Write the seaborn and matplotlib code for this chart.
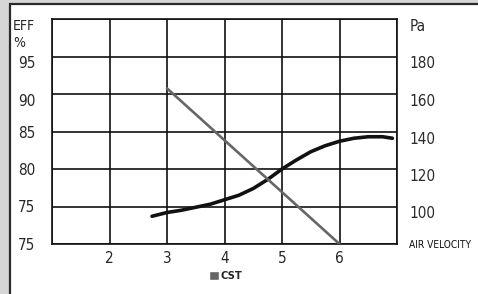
"""Filter efficiency and pressure drop vs air velocity."""

import matplotlib
matplotlib.use('Agg')
import matplotlib.pyplot as plt
import seaborn as sns
from matplotlib import font_manager
from matplotlib.patches import Patch, Rectangle

# efficiency curve (left axis, %)
VELOCITY = [2.74, 3.0, 3.25, 3.5, 3.75, 4.0, 4.25, 4.5, 4.75, 5.0,
            5.25, 5.5, 5.75, 6.0, 6.25, 6.5, 6.75, 6.92]
EFFICIENCY = [73.7, 74.2, 74.5, 74.9, 75.3, 75.9, 76.5, 77.4, 78.6, 80.0,
              81.2, 82.3, 83.1, 83.7, 84.1, 84.3, 84.3, 84.1]

# CST pressure drop (right axis, Pa)
CST_VELOCITY = [3.0, 6.0]
CST_PA = [163, 80]

X_TICKS = [1, 2, 3, 4, 5, 6, 7]
X_LABELS = ['', '2', '3', '4', '5', '6', '']
EFF_TICKS = [70, 75, 80, 85, 90, 95, 100]
EFF_LABELS = ['75', '75', '80', '85', '90', '95', 'EFF\n%']
PA_TICKS = [80, 100, 120, 140, 160, 180, 200]
PA_LABELS = ['AIR VELOCITY', '100', '120', '140', '160', '180', 'Pa']


def main():
    sns.set_style('white')
    names = {f.name for f in font_manager.fontManager.ttflist}
    narrow = 'Liberation Sans Narrow' in names
    if narrow:
        plt.rcParams['font.family'] = ['Liberation Sans Narrow', 'DejaVu Sans']
    else:
        plt.rcParams['font.family'] = ['DejaVu Sans']
        plt.rcParams['font.stretch'] = 'condensed'

    fig = plt.figure(figsize=(4.78, 2.94), dpi=100, facecolor='#d6d6d6')
    fig.patches.append(Rectangle((9.5 / 478, -0.1), 1.1, 1.1 - 4 / 294,
                                 transform=fig.transFigure, facecolor='white',
                                 edgecolor='#2a2a2a', linewidth=1.6, zorder=-5))

    ax = fig.add_axes([52 / 478, 1 - 244 / 294, 345 / 478, 225 / 294])
    ax.set_facecolor('white')
    sns.lineplot(x=VELOCITY, y=EFFICIENCY, ax=ax, color='#111111', linewidth=2.6,
                 solid_capstyle='round', solid_joinstyle='round', zorder=3)
    ax.set_xlim(1, 7)
    ax.set_ylim(70, 100)
    ax.set_xticks(X_TICKS)
    ax.set_xticklabels(X_LABELS, fontsize=11)
    ax.set_yticks(EFF_TICKS)
    ax.set_yticklabels(EFF_LABELS, fontsize=11)
    ax.grid(True, color='#111111', linewidth=1.2)
    ax.tick_params(length=0)
    ax.tick_params(axis='x', pad=5)
    ax.tick_params(axis='y', pad=12)
    for sp in ax.spines.values():
        sp.set_color('#111111')
        sp.set_linewidth(1.2)
    for lab in ax.get_yticklabels():
        txt = lab.get_text()
        if txt in ('95', '90') or txt.startswith('EFF'):
            lab.set_va('top')
        if txt.startswith('EFF'):
            lab.set_fontsize(10)
            lab.set_multialignment('left')
            lab.set_linespacing(1.25)

    ax2 = ax.twinx()
    sns.lineplot(x=CST_VELOCITY, y=CST_PA, ax=ax2, color='#666666', linewidth=1.9)
    ax2.set_ylim(80, 200)
    ax2.set_yticks(PA_TICKS)
    ax2.set_yticklabels(PA_LABELS, fontsize=11, color='#2a2a2a')
    ax2.tick_params(length=0, pad=9)
    ax2.grid(False)
    for sp in ax2.spines.values():
        sp.set_visible(False)
    for lab in ax2.get_yticklabels():
        if lab.get_text() == 'AIR VELOCITY':
            lab.set_fontsize(8.7 if narrow else 7.3)
            lab.set_color('#111111')
        else:
            lab.set_va('top')

    ax.legend(handles=[Patch(facecolor='#666666', label='CST')],
              loc='center', bbox_to_anchor=(0.503, -0.142), frameon=False,
              handlelength=0.9, handleheight=0.9, handletextpad=0.15,
              prop={'weight': 'bold', 'size': 8})

    plt.savefig('out.png', dpi=100, facecolor=fig.get_facecolor())
    plt.close()


if __name__ == '__main__':
    main()
